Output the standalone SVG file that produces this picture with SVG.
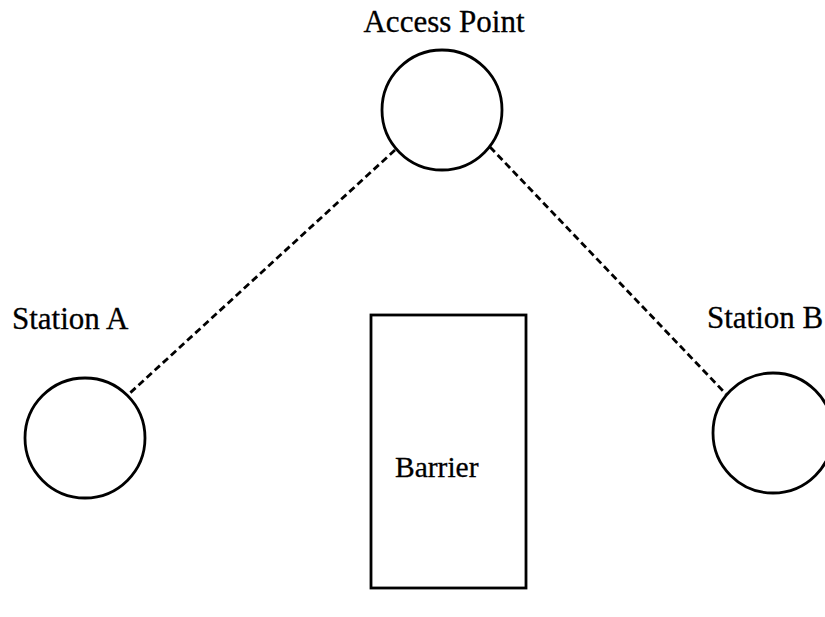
<svg xmlns="http://www.w3.org/2000/svg" width="825" height="617" viewBox="0 0 825 617">
  <style>
    .node { fill: #fff; stroke: #000; stroke-width: 2.8; }
    .link { stroke: #000; stroke-width: 2.8; stroke-dasharray: 7 4; fill: none; }
    .label { font-family: "Liberation Serif", "Times New Roman", serif; font-size: 31px; fill: #000; stroke: #000; stroke-width: 0.3; }
    .inner { font-size: 29.5px; }
  </style>
  <rect width="825" height="617" fill="#fff"/>

  <g id="connectors">
    <line class="link" x1="395" y1="150" x2="130" y2="393"/>
    <line class="link" x1="490" y1="147" x2="726" y2="394"/>
  </g>

  <g id="access-point">
    <circle class="node" cx="442" cy="110" r="60"/>
    <text class="label" x="444" y="32" text-anchor="middle">Access Point</text>
  </g>

  <g id="station-a">
    <circle class="node" cx="85" cy="438" r="60"/>
    <text class="label" x="12" y="329">Station A</text>
  </g>

  <g id="station-b">
    <circle class="node" cx="773" cy="433" r="60"/>
    <text class="label" x="707" y="328">Station B</text>
  </g>

  <g id="barrier">
    <rect class="node" x="371" y="315" width="155" height="273"/>
    <text class="label inner" x="395" y="477">Barrier</text>
  </g>
</svg>
